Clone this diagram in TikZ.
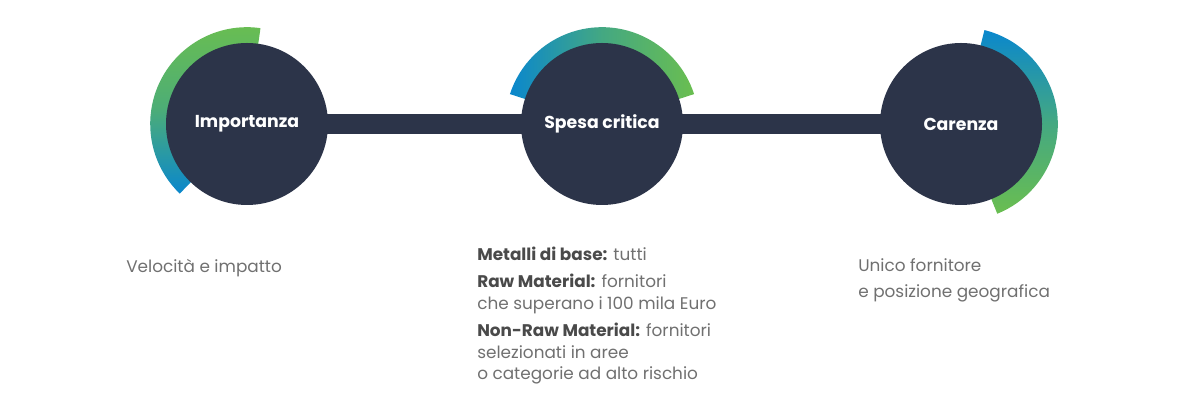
\documentclass[tikz,border=0pt]{standalone}
\usepackage{fontspec}
\setmainfont{Poppins}
\usetikzlibrary{positioning,calc,backgrounds}

\definecolor{navy}{HTML}{2C3449}
\definecolor{arcgreen}{HTML}{6ABE50}
\definecolor{arcblue}{HTML}{0A87CD}
\definecolor{txtgrey}{HTML}{707070}
\definecolor{txtdark}{HTML}{4A4A4A}

\begin{document}
\begin{tikzpicture}[
      stage/.style={circle, fill=navy, minimum size=4.05cm, inner sep=0pt, text=white, font=\fontsize{12.3}{15}\selectfont\bfseries},
      bar/.style={navy, line width=0.5cm},
      ring/.style={shift={(#1)}},
      note/.style={anchor=base west, align=left, text=txtgrey, inner sep=0pt, font=\fontsize{12}{18.5}\selectfont}
    ]
      \useasboundingbox (0,0) rectangle (30,10);

      % Stages
      \node[stage] (imp) at (6.175,6.9) {Importanza};
      \node[stage] (spesa) at (15.05,6.9) {Spesa critica};
      \node[stage] (carenza) at (24.025,6.9) {Carenza};

      % Bar and gradient arcs behind the circles
      \begin{scope}[on background layer]
        \draw[bar] (imp.center) -- (spesa.center);
        \draw[bar] (spesa.center) -- (carenza.center);
        \shade[ring=imp, top color=arcgreen, bottom color=arcblue, middle color=arcgreen!70!arcblue]
          (82:2.42) arc[start angle=82, end angle=226, radius=2.42]
          -- (226:1.9) arc[start angle=226, end angle=82, radius=1.9] -- cycle;
        \shade[ring=spesa, left color=arcblue, right color=arcgreen, middle color=arcgreen!60!arcblue]
          (18:2.42) arc[start angle=18, end angle=162, radius=2.42]
          -- (162:1.9) arc[start angle=162, end angle=18, radius=1.9] -- cycle;
        \shade[ring=carenza, top color=arcblue, bottom color=arcgreen, middle color=arcgreen!60!arcblue]
          (76:2.42) arc[start angle=76, end angle=-68, radius=2.42]
          -- (-68:1.9) arc[start angle=-68, end angle=76, radius=1.9] -- cycle;
      \end{scope}

      % Descriptions (anchored at the baseline of their last line)
      \node[note] (imp_txt) at (3.15,3.175) {Velocità e impatto};
      \node[note, font=\fontsize{12}{15.3}\selectfont] (spesa_txt) at (11.925,0.5) {%
        \textcolor{txtdark}{\textbf{Metalli di base:}} tutti\\[4.3pt]
        \textcolor{txtdark}{\textbf{Raw Material:}} fornitori\\
        che superano i 100 mila Euro\\[4.3pt]
        \textcolor{txtdark}{\textbf{Non-Raw Material:}} fornitori\\
        selezionati in aree\\
        o categorie ad alto rischio};
      \node[note] (carenza_txt) at (21.45,2.55) {Unico fornitore\\e posizione geografica};
    \end{tikzpicture}
\end{document}
